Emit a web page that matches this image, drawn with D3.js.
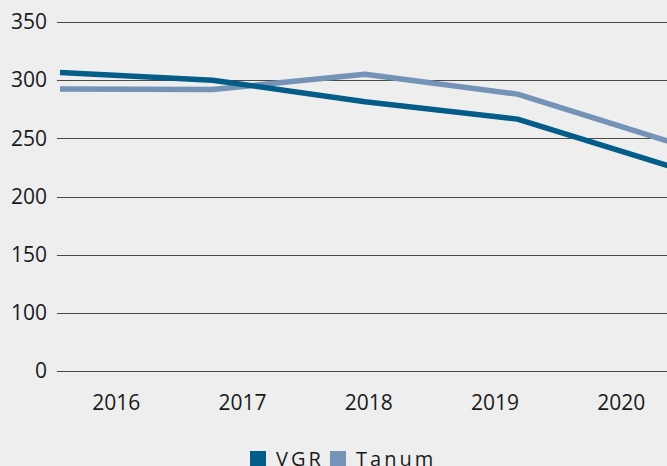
<!DOCTYPE html>
<html>
<head>
<meta charset="utf-8">
<script src="https://cdn.jsdelivr.net/npm/d3@7"></script>
<style>
  html, body { margin: 0; padding: 0; background: #eeeeee; overflow: hidden; }
  svg { display: block; font-family: "Open Sans", "Noto Sans", sans-serif; }
</style>
</head>
<body>
<div id="svg-container"></div>
<script>
const Width = 667;
const Height = 466;

// data
const years = ["2016", "2017", "2018", "2019", "2020"];
const vgr = [306.5, 300, 281.5, 266.5, 226];
const tanum = [292.5, 292, 305, 288, 247];
const seriesNames = ["VGR", "Tanum"];
const seriesColors = ["#045d88", "#7593b7"];

// y axis: ticks equally spaced, lowest one labelled "0"
const yTickValues = [50, 100, 150, 200, 250, 300, 350];
const yTickLabels = ["0", "100", "150", "200", "250", "300", "350"];

const svg = d3.select("#svg-container").append("svg")
    .attr("width", Width)
    .attr("height", Height);

svg.append("rect")
    .attr("width", Width)
    .attr("height", Height)
    .attr("fill", "#eeeeee");

const y = d3.scaleLinear().domain([50, 350]).range([371, 22]);

// x for the lines (points spread over plot width)
const xLine = d3.scalePoint().domain(years).range([60, 670]);
// x for the labels (band centres)
const xLabel = d3.scaleBand().domain(years).range([53, 684.5]);

// gridlines
svg.append("g")
    .selectAll("line")
    .data(yTickValues)
    .join("line")
    .attr("x1", 57)
    .attr("x2", Width)
    .attr("y1", d => Math.round(y(d)) + 0.5)
    .attr("y2", d => Math.round(y(d)) + 0.5)
    .attr("stroke", "#4a4a4a")
    .attr("stroke-width", 1.2);

// y labels
const yAxis = d3.axisLeft(y)
    .tickValues(yTickValues)
    .tickFormat((d, i) => yTickLabels[i])
    .tickSize(0)
    .tickPadding(0);

svg.append("g")
    .attr("transform", "translate(47,0)")
    .call(yAxis)
    .call(g => g.select(".domain").remove())
    .selectAll("text")
    .attr("font-size", 21)
    .attr("font-family", "Open Sans")
    .attr("fill", "#1a1a1a");

// x labels
const xAxis = d3.axisBottom(xLabel).tickSize(0).tickPadding(0);

svg.append("g")
    .attr("transform", "translate(0,395)")
    .call(xAxis)
    .call(g => g.select(".domain").remove())
    .selectAll("text")
    .attr("font-size", 21)
    .attr("font-family", "Open Sans")
    .attr("fill", "#1a1a1a");

// lines
const lineGenerator = d3.line()
    .x((d, i) => xLine(years[i]))
    .y(d => y(d));

[tanum, vgr].forEach((values, k) => {
    svg.append("path")
        .attr("d", lineGenerator(values))
        .attr("fill", "none")
        .attr("stroke", k === 0 ? seriesColors[1] : seriesColors[0])
        .attr("stroke-width", 5.5)
        .attr("stroke-linejoin", "round");
});

// legend
const legend = svg.append("g").attr("transform", "translate(250,451)");
const legendX = [0, 80];

seriesNames.forEach((name, i) => {
    legend.append("rect")
        .attr("x", legendX[i])
        .attr("y", 0)
        .attr("width", 16)
        .attr("height", 16)
        .attr("fill", seriesColors[i]);
    legend.append("text")
        .attr("x", legendX[i] + 26)
        .attr("y", 14.5)
        .attr("font-size", 20)
        .attr("letter-spacing", 3)
        .attr("fill", "#1a1a1a")
        .text(name);
});
</script>
</body>
</html>
